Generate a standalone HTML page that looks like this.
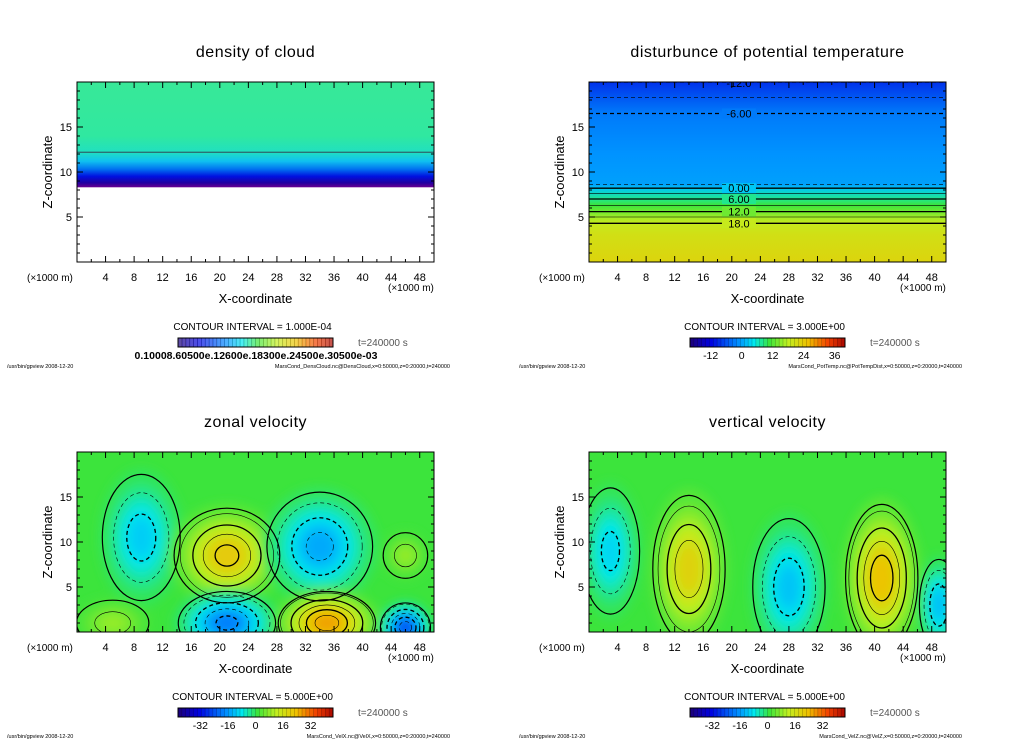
<!DOCTYPE html>
<html><head><meta charset="utf-8"><style>
html,body{margin:0;padding:0;background:#fff;width:1024px;height:740px;overflow:hidden}
svg{display:block;font-family:"Liberation Sans",sans-serif}
</style></head><body>
<svg id="c" width="1024" height="740" viewBox="0 0 1024 740">
<defs>
<filter id="blur" x="-50%" y="-50%" width="200%" height="200%"><feGaussianBlur stdDeviation="5"/></filter>
</defs>
</svg>
<script>
// ---- data ----
const xTicks=[4,8,12,16,20,24,28,32,36,40,44,48];
const zTicks=[5,10,15];
const titles=["density of cloud","disturbunce of potential temperature","zonal velocity","vertical velocity"];
const intervals=["1.000E-04","3.000E+00","5.000E+00","5.000E+00"];
const footers=["MarsCond_DensCloud.nc@DensCloud,x=0:50000,z=0:20000,t=240000","MarsCond_PotTemp.nc@PotTempDist,x=0:50000,z=0:20000,t=240000","MarsCond_VelX.nc@VelX,x=0:50000,z=0:20000,t=240000","MarsCond_VelZ.nc@VelZ,x=0:50000,z=0:20000,t=240000"];
const cbTemp=[-12,0,12,24,36];
const cbVel=[-32,-16,0,16,32];
// temperature profile
const tempZ=[0,3,4.3,5,5.6,6.3,7,8.2,8.6,12,16.5,18.3,20];
const tempV=[22,20,18,15,12,9,6,0,-3,-4,-6,-9,-12];
// cloud density profile levels (z)
const cloudZ=[8.3,8.8,9.5,10.3,11.2,12.2,14,20];
// zonal blobs: x, z, amplitude, sx, sz
const zonalX=[9,21,34,21,35,46,46,5];
const zonalZ=[10.5,8.5,9.5,1,1,0.5,8.5,1];
const zonalA=[-13,22,-17,-22,28,-28,8,8];
const zonalSX=[2.8,3.8,3.8,3.5,3.5,1.8,1.6,2.6];
const zonalSZ=[3.6,2.7,3.1,1.8,1.8,1.4,1.3,1.3];
// vertical blobs
const vertX=[3,14,28,41,49];
const vertZ=[9,7,5,6,3];
const vertA=[-12,20,-14,24,-15];
const vertSX=[2.1,2.6,2.6,2.6,1.4];
const vertSZ=[3.6,4.2,3.9,4.2,2.6];

const svg=document.getElementById('c');
const NS='http://www.w3.org/2000/svg';
function mk(tag,attrs,parent){const e=document.createElementNS(NS,tag);for(const k in attrs)e.setAttribute(k,attrs[k]);(parent||svg).appendChild(e);return e;}
const stops=[[0,[26,0,128]],[.12,[0,0,224]],[.3,[0,144,255]],[.4,[0,232,240]],[.5,[60,228,60]],[.62,[192,240,32]],[.75,[240,192,0]],[.88,[240,64,0]],[1,[160,0,0]]];
function cmap(f){f=Math.max(0,Math.min(1,f));for(let i=1;i<stops.length;i++){if(f<=stops[i][0]){const a=stops[i-1],b=stops[i];const t=(f-a[0])/(b[0]-a[0]);const c=a[1].map((v,j)=>Math.round(v+(b[1][j]-v)*t));return `rgb(${c})`;}}return 'rgb(160,0,0)';}
function tcol(v){return cmap((v+24)/66);}

const panels=[{x0:77,y0:82},{x0:589,y0:82},{x0:77,y0:452},{x0:589,y0:452}];
const W=357,H=180;
function sx(p,x){return p.x0+x/50*W;}
function sz(p,z){return p.y0+H-z/20*H;}
const defs=svg.querySelector('defs');

panels.forEach((p,i)=>{
  const g=mk('g',{});
  
  
  const cp=mk('clipPath',{id:'cl'+i},defs);
  mk('rect',{x:p.x0,y:p.y0,width:W,height:H},cp);
  const plot=mk('g',{'clip-path':`url(#cl${i})`},g);
  
  
  if(i===0){
    const z0=cloudZ[0];
    const lg=mk('linearGradient',{id:'gc',gradientUnits:'userSpaceOnUse',x1:0,y1:sz(p,z0),x2:0,y2:sz(p,20)},defs);
    const cols=['#6a0090','#2000a0','#0010e0','#0070f0','#10c0f0','#20e0c0','#30e8a0','#38e898'];
    cloudZ.forEach((z,k)=>{mk('stop',{offset:((z-z0)/(20-z0)).toFixed(3),'stop-color':cols[k]},lg);});
    mk('rect',{x:p.x0,y:p.y0,width:W,height:sz(p,z0)-p.y0,fill:'url(#gc)'},plot);
    mk('line',{x1:p.x0,x2:p.x0+W,y1:sz(p,cloudZ[5]),y2:sz(p,cloudZ[5]),stroke:'#334','stroke-width':0.8},plot);
  } else if(i===1){
    const lg=mk('linearGradient',{id:'gt',x1:0,y1:1,x2:0,y2:0},defs);
    tempZ.forEach((z,k)=>mk('stop',{offset:(z/20).toFixed(3),'stop-color':tcol(tempV[k])},lg));
    mk('rect',{x:p.x0,y:p.y0,width:W,height:H,fill:'url(#gt)'},plot);
    const levels=[18,15,12,9,6,3,0,-3,-6,-9,-12];
    levels.forEach(L=>{
      for(let k=1;k<tempV.length;k++){if((tempV[k-1]-L)*(tempV[k]-L)<=0&&tempV[k-1]!==tempV[k]){
        const z=tempZ[k-1]+(L-tempV[k-1])/(tempV[k]-tempV[k-1])*(tempZ[k]-tempZ[k-1]);const y=sz(p,z);
        mk('line',{x1:p.x0,x2:p.x0+W,y1:y,y2:y,stroke:'#000','stroke-width':L%6===0?1.3:0.6,'stroke-dasharray':L<0?'4 3':'none'},plot);
        if(L%6===0&&L>-9){const lx=sx(p,21);
          mk('rect',{x:lx-17,y:y-5,width:34,height:10,fill:tcol(L)},plot);
          const t=mk('text',{x:lx,y:y+4,'font-size':11,'text-anchor':'middle',fill:'#000'},plot);t.textContent=(L===0?'0.00':Math.abs(L)<10?L.toFixed(2):Math.abs(L).toFixed(1));}
        break;}}
    });
    const t=mk('text',{x:sx(p,21),y:p.y0+5,'font-size':11,'text-anchor':'middle'},plot);t.textContent='-12.0';
  } else {
    const bx=i===2?zonalX:vertX,bz=i===2?zonalZ:vertZ,ba=i===2?zonalA:vertA,bsx=i===2?zonalSX:vertSX,bsz=i===2?zonalSZ:vertSZ;
    mk('rect',{x:p.x0,y:p.y0,width:W,height:H,fill:cmap(0.5)},plot);
    const fg=mk('g',{filter:'url(#blur)'},plot);
    const fr=[0.1,0.25,0.4,0.55,0.7,0.85];
    bx.forEach((x,k)=>{fr.forEach(f=>{const r=Math.sqrt(-2*Math.log(f));
      mk('ellipse',{cx:sx(p,x),cy:sz(p,bz[k]),rx:bsx[k]*r/50*W,ry:bsz[k]*r/20*H,fill:cmap(0.5+ba[k]*f/85)},fg);});});
    bx.forEach((x,k)=>{for(let L=5;L<Math.abs(ba[k]);L+=5){const f=L/Math.abs(ba[k]);const r=Math.sqrt(-2*Math.log(f));
      mk('ellipse',{cx:sx(p,x),cy:sz(p,bz[k]),rx:bsx[k]*r/50*W,ry:bsz[k]*r/20*H,fill:'none',stroke:'#000','stroke-width':L%10===0?1.3:0.6,'stroke-dasharray':ba[k]<0?'4 3':'none'},plot);}
      const r0=Math.sqrt(-2*Math.log(0.15));
      mk('ellipse',{cx:sx(p,x),cy:sz(p,bz[k]),rx:bsx[k]*r0/50*W,ry:bsz[k]*r0/20*H,fill:'none',stroke:'#000','stroke-width':1.2},plot);
    });
  }
  // frame
  mk('rect',{x:p.x0,y:p.y0,width:W,height:H,fill:'none',stroke:'#000','stroke-width':1},g);
  for(let x=2;x<50;x+=2){const L=x%4===0?6:3;
    mk('line',{x1:sx(p,x),x2:sx(p,x),y1:p.y0+H,y2:p.y0+H-L,stroke:'#000'},g);
    mk('line',{x1:sx(p,x),x2:sx(p,x),y1:p.y0,y2:p.y0+L,stroke:'#000'},g);}
  for(let z=1;z<20;z++){const L=z%5===0?6:3;
    mk('line',{x1:p.x0,x2:p.x0+L,y1:sz(p,z),y2:sz(p,z),stroke:'#000'},g);
    mk('line',{x1:p.x0+W,x2:p.x0+W-L,y1:sz(p,z),y2:sz(p,z),stroke:'#000'},g);}
  xTicks.forEach(v=>{const t=mk('text',{x:sx(p,v),y:p.y0+H+19,'font-size':11,'text-anchor':'middle'},g);t.textContent=v;
    });
  zTicks.forEach(v=>{const t=mk('text',{x:p.x0-5,y:sz(p,v)+4,'font-size':11,'text-anchor':'end'},g);t.textContent=v;
    });
  const u1=mk('text',{x:p.x0-50,y:p.y0+H+19,'font-size':10},g);u1.textContent='(×1000 m)';
  
  const u2=mk('text',{x:p.x0+W-46,y:p.y0+H+29,'font-size':10},g);u2.textContent='(×1000 m)';
  
  const xt=mk('text',{x:p.x0+W/2,y:p.y0+H+41,'font-size':13,'text-anchor':'middle'},g);xt.textContent='X-coordinate';
  
  const yt=mk('text',{x:0,y:0,'font-size':13,'text-anchor':'middle',transform:`translate(${p.x0-25},${p.y0+H/2}) rotate(-90)`},g);yt.textContent='Z-coordinate';
  
  const tt=mk('text',{x:p.x0+W/2,y:p.y0-25,'font-size':16,'text-anchor':'middle','letter-spacing':'0.5'},g);tt.textContent=titles[i];
  
  const ci=mk('text',{x:p.x0+W/2-3,y:p.y0+H+68,'font-size':10,'text-anchor':'middle'},g);ci.textContent='CONTOUR INTERVAL = '+intervals[i];
  
  // colorbar
  const cbx=p.x0+101,cby=p.y0+H+76,cbw=155;
  const cb=mk('g',{},g);
  const n=40;for(let k=0;k<n;k++){mk('rect',{x:cbx+k*cbw/n,y:cby,width:cbw/n+0.5,height:9,fill:i===0?cmap(k/n).replace('rgb(','rgba(').replace(')',',0.7)'):cmap(k/n)},cb);
    mk('line',{x1:cbx+k*cbw/n,x2:cbx+k*cbw/n,y1:cby,y2:cby+9,stroke:'rgba(0,0,0,0.35)','stroke-width':0.5},cb);}
  mk('rect',{x:cbx,y:cby,width:cbw,height:9,fill:'none',stroke:'#000'},cb);
  if(i===0){const t=mk('text',{x:cbx+78,y:cby+21,'font-size':10.5,'text-anchor':'middle','font-weight':'bold'},cb);t.textContent='0.10008.60500e.12600e.18300e.24500e.30500e-03';}
  else{const arr=i===1?cbTemp:cbVel,lo=i===1?-20:-45,hi=i===1?40:45;
    arr.forEach(v=>{const t=mk('text',{x:cbx+(v-lo)/(hi-lo)*cbw,y:cby+21,'font-size':10.5,'text-anchor':'middle'},cb);t.textContent=v;});}
  const ts=mk('text',{x:p.x0+281,y:cby+8,'font-size':10,fill:'#555'},g);ts.textContent='t=240000 s';
  
  const f1=mk('text',{x:p.x0-70,y:p.y0+H+106,'font-size':5.5},g);f1.textContent='/usr/bin/gpview   2008-12-20';
  const f2=mk('text',{x:p.x0+W+16,y:p.y0+H+106,'font-size':5.5,'text-anchor':'end'},g);f2.textContent=footers[i];
  
});
</script>
</body></html>
